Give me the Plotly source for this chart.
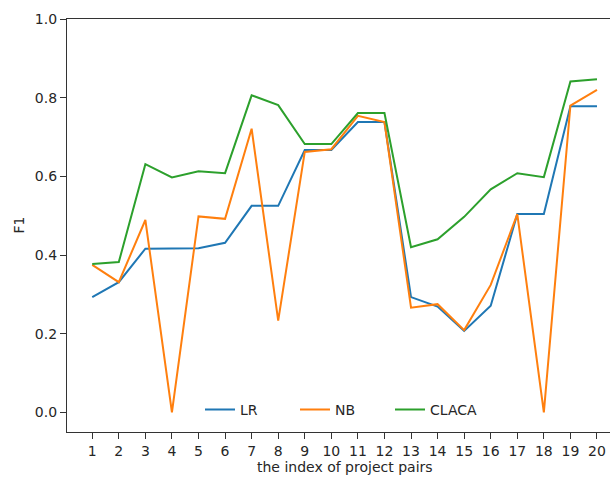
import plotly.graph_objects as go

pairs = list(range(1, 21))
lr = [0.293, 0.331, 0.416, 0.416, 0.417, 0.431, 0.525, 0.525, 0.667, 0.667,
      0.738, 0.738, 0.293, 0.269, 0.207, 0.271, 0.504, 0.504, 0.778, 0.778]
nb = [0.375, 0.331, 0.489, 0.0, 0.498, 0.492, 0.721, 0.233, 0.662, 0.669,
      0.754, 0.738, 0.266, 0.275, 0.209, 0.324, 0.504, 0.0, 0.780, 0.820]
claca = [0.377, 0.382, 0.631, 0.597, 0.613, 0.608, 0.806, 0.781, 0.682, 0.682,
         0.761, 0.761, 0.420, 0.440, 0.497, 0.567, 0.608, 0.598, 0.841, 0.847]
series_names = ["LR", "NB", "CLACA"]
colors = ["#1f77b4", "#ff7f0e", "#2ca02c"]
y_ticks = [0.0, 0.2, 0.4, 0.6, 0.8, 1.0]

font = dict(family="DejaVu Sans", size=14, color="#262626")

fig = go.Figure()
for name, vals, c in zip(series_names, [lr, nb, claca], colors):
    fig.add_trace(go.Scatter(x=pairs, y=vals, mode="lines", name=name,
                             line=dict(color=c, width=2)))

fig.update_layout(
    width=610, height=479,
    margin=dict(l=67, r=0, t=19, b=47),
    paper_bgcolor="white", plot_bgcolor="white",
    font=font,
    showlegend=True,
    legend=dict(orientation="h", x=(200 - 67) / 543, xanchor="left", y=0.015, yanchor="bottom",
                bgcolor="rgba(0,0,0,0)", font=dict(family="DejaVu Sans", size=14, color="#262626"),
                entrywidth=50, entrywidthmode="pixels"),
    xaxis=dict(range=[0.05, 20.49], tickmode="array", tickvals=pairs,
               ticktext=[str(p) for p in pairs],
               showgrid=False, zeroline=False, showline=True, linecolor="#333333",
               linewidth=1.2, mirror=True, ticks="outside", ticklen=6, tickwidth=1,
               tickcolor="#333333", tickfont=font),
    yaxis=dict(range=[-0.05, 1.0], tickmode="array", tickvals=y_ticks,
               ticktext=[f"{v:.1f}" for v in y_ticks],
               showgrid=False, zeroline=False, showline=True, linecolor="#333333",
               linewidth=1.2, ticks="outside", ticklen=6, tickwidth=1,
               tickcolor="#333333", tickfont=font),
)

fig.add_annotation(text="the index of project pairs", xref="x", yref="paper",
                   x=10.5, y=0, yshift=-35, showarrow=False, xanchor="center",
                   yanchor="middle", font=font)
fig.add_annotation(text="F1", xref="paper", yref="paper", x=0, xshift=-49,
                   y=0.5, textangle=-90, showarrow=False, xanchor="center",
                   yanchor="middle", font=font)

fig.write_html("out.html", config={"displayModeBar": False},
               post_script="document.body.style.margin='0';document.body.style.overflow='hidden';")
